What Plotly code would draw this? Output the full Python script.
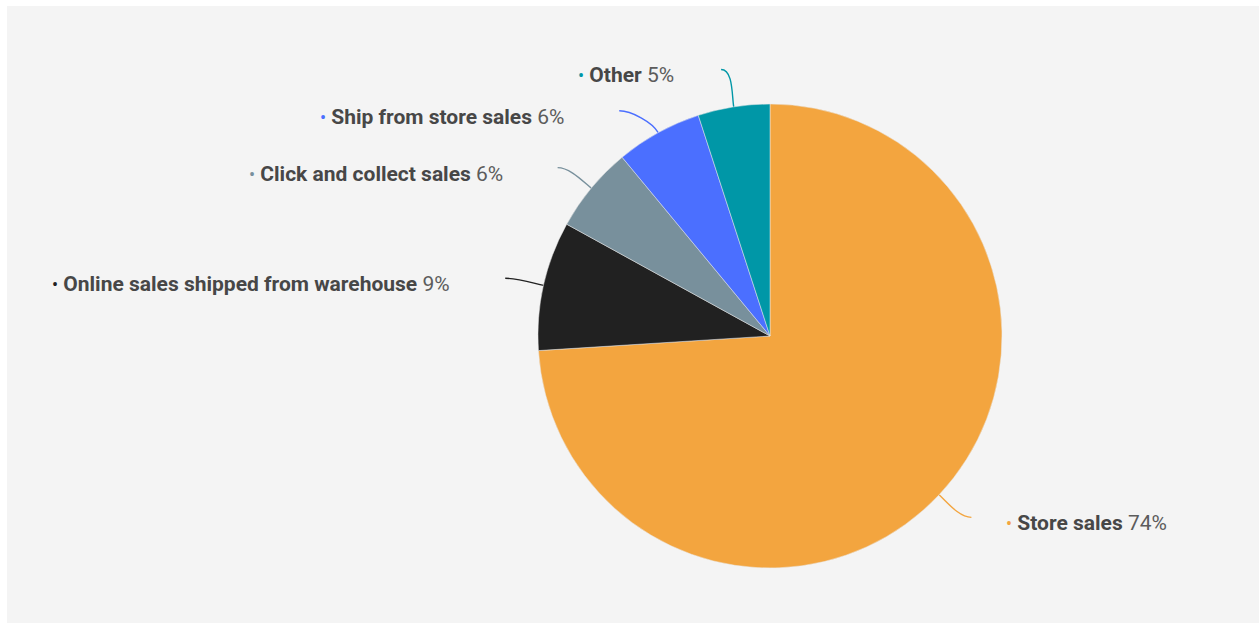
import math
import plotly.graph_objects as go

# Sales channel mix
categories = [
    "Store sales",
    "Online sales shipped from warehouse",
    "Click and collect sales",
    "Ship from store sales",
    "Other",
]
shares = [74, 9, 6, 6, 5]

# Styling
colors = ["#F3A53F", "#212121", "#78909C", "#4B6FFF", "#0097A7"]
label_nudge_deg = [-1.2, -0.3, -1.2, -5.0, -1.4]   # small angular shifts of label anchors
label_pad = [33, 53, 53, 53, 45]                   # gap between leader end and label
W, H = 1259, 623
CX, CY, R = 770, 336, 232          # pie centre / radius in pixels
TICK_R = 271                        # radius where leader lines end
FONT = "Roboto"
NAME_COLOR = "#474747"
PCT_COLOR = "#5c5c5c"


def px_to_paper(x, y):
    return x / W, 1 - y / H


fig = go.Figure()

x0, y0 = px_to_paper(CX - R, CY + R)
x1, y1 = px_to_paper(CX + R, CY - R)
fig.add_trace(go.Pie(
    labels=categories,
    values=shares,
    sort=False,
    direction="clockwise",
    rotation=0,
    marker=dict(colors=colors, line=dict(color="#e9e9e9", width=0.5)),
    textinfo="none",
    hoverinfo="label+percent",
    showlegend=False,
    domain=dict(x=[x0, x1], y=[y0, y1]),
))

shapes = [
    # panel background
    dict(type="rect", xref="paper", yref="paper", x0=7 / W, x1=1, y0=0, y1=1 - 6 / H,
         fillcolor="#f4f4f4", line=dict(width=0), layer="below"),
]
annotations = []

total = sum(shares)
cum = 0.0
for name, val, col, nudge, pad in zip(categories, shares, colors, label_nudge_deg, label_pad):
    mid = (cum + val / 2) / total * 360.0
    cum += val
    th = math.radians(mid)
    ux, uy = math.sin(th), -math.cos(th)
    # leader line: leaves the slice radially, ends horizontally
    p0 = (CX + R * ux, CY + R * uy)
    te = math.radians(mid + nudge)
    p3 = (CX + TICK_R * math.sin(te), CY - TICK_R * math.cos(te))
    side = 1 if p3[0] >= CX else -1
    p1 = (p0[0] + 12 * ux, p0[1] + 12 * uy)
    p2 = (p3[0] - side * 12, p3[1])
    pts = [px_to_paper(*p) for p in (p0, p1, p2, p3)]
    path = "M {:.5f},{:.5f} C {:.5f},{:.5f} {:.5f},{:.5f} {:.5f},{:.5f}".format(
        *pts[0], *pts[1], *pts[2], *pts[3])
    shapes.append(dict(type="path", xref="paper", yref="paper", path=path,
                       line=dict(color=col, width=1.4), layer="below"))

    pct = round(val / total * 100)
    text = (f'<span style="font-size:18px;color:{col}">•</span> '
            f'<b><span style="color:{NAME_COLOR}">{name}</span></b> '
            f'<span style="color:{PCT_COLOR}">{pct}%</span>')
    lx = p3[0] + side * pad
    ax, ay = px_to_paper(lx, p3[1] + 6)
    annotations.append(dict(
        x=ax, y=ay, xref="paper", yref="paper", text=text, showarrow=False,
        xanchor="left" if side > 0 else "right", yanchor="middle",
        font=dict(family=FONT, size=21, color=NAME_COLOR),
    ))

fig.update_layout(
    width=W, height=H,
    margin=dict(l=0, r=0, t=0, b=0),
    paper_bgcolor="#ffffff",
    plot_bgcolor="#f4f4f4",
    shapes=shapes,
    annotations=annotations,
    showlegend=False,
)

fig.write_html("out.html")
